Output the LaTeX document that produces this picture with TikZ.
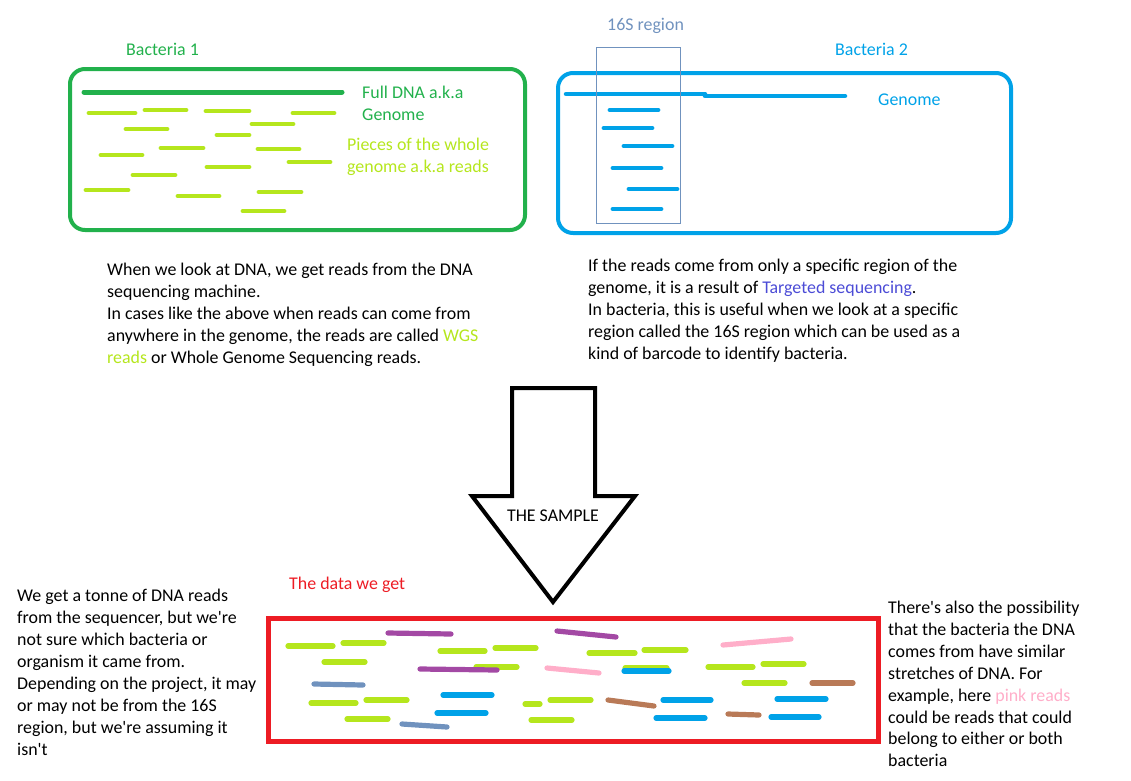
\documentclass[tikz,border=0pt]{standalone}
\usepackage{fontspec}
\setmainfont{Carlito}
\definecolor{pgreen}{HTML}{22B14C}
\definecolor{plime}{HTML}{B5E61D}
\definecolor{pblue}{HTML}{00A2E8}
\definecolor{psteel}{HTML}{7092BE}
\definecolor{pred}{HTML}{ED1C24}
\definecolor{ppurple}{HTML}{A349A4}
\definecolor{ppink}{HTML}{FFAEC9}
\definecolor{pbrown}{HTML}{B97A57}
\definecolor{pindigo}{HTML}{4B4BD6}
\tikzset{
  txt/.style={font=\fontsize{17.9}{21.9}\selectfont, inner sep=0pt, align=left, anchor=north west},
  lbl/.style={font=\fontsize{17.9}{21.9}\selectfont, inner sep=0pt, anchor=base west},
  rd/.style={line width=4.8pt, line cap=round},
  rdb/.style={line width=5.2pt, line cap=round},
  cellbox/.style={line width=4pt, rounded corners=15pt},
}
\newcommand{\apos}{\textquotesingle}
\begin{document}
\begin{tikzpicture}[x=1pt,y=-1pt]
\useasboundingbox (0,0) rectangle (1131,780);

% ---------- Bacteria 1 ----------
\node[lbl, text=pgreen] (b1) at (126,55) {Bacteria 1};
\draw[cellbox, pgreen] (70,69) rectangle (525,230);
\draw[line width=5pt, line cap=round, pgreen] (84,92) -- (342,92);
\node[txt, text=pgreen] (full) at (362,82.7) {\strut Full DNA a.k.a\\Genome};
\node[txt, text=plime] (pieces) at (347,135.4) {\strut Pieces of the whole\\genome a.k.a reads};
\foreach \a/\b/\y in {89/135/113, 145/186/110, 206/249/111, 293/334/113, 126/167/129,
  252/293/124, 217/249/135, 161/203/148, 258/299/149, 101/142/155, 289/330/162,
  207/249/167, 133/175/175, 86/128/190, 178/219/196, 259/301/192, 243/284/211}
  \draw[rd, plime] (\a,\y) -- (\b,\y);

% ---------- Bacteria 2 ----------
\node[lbl, text=psteel] (r16) at (607,30.7) {16S region};
\node[lbl, text=pblue] (b2) at (835,55) {Bacteria 2};
\draw[cellbox, pblue] (558,73) rectangle (1011,233);
\draw[line width=4.5pt, line cap=round, pblue] (566,94) -- (705,94);
\draw[line width=4.5pt, line cap=round, pblue] (705,96) -- (845,96);
\node[lbl, text=pblue] (gen2) at (878,105) {Genome};
\foreach \a/\b/\y in {610/658/110, 604/652/128, 624/672/146, 613/661/168, 629/677/189, 613/661/209}
  \draw[rd, pblue] (\a,\y) -- (\b,\y);
\draw[line width=1pt, psteel] (596,47) rectangle (680,223);

% ---------- explanations ----------
\node[txt] (wgs) at (107,260.4) {\strut When we look at DNA, we get reads from the DNA\\
sequencing machine.\\
In cases like the above when reads can come from\\
anywhere in the genome, the reads are called {\color{plime}WGS}\\
{\color{plime}reads} or Whole Genome Sequencing reads.};
\node[txt] (tgt) at (588,256.4) {\strut If the reads come from only a specific region of the\\
genome, it is a result of {\color{pindigo}Targeted sequencing}.\\
In bacteria, this is useful when we look at a specific\\
region called the 16S region which can be used as a\\
kind of barcode to identify bacteria.};

% ---------- big arrow ----------
\draw[line width=4pt, line join=miter] (512,388) -- (595,388) -- (595,496) -- (635,496)
  -- (553,602) -- (472,496) -- (512,496) -- cycle;
\node[font=\fontsize{17.9}{21.9}\selectfont, inner sep=0pt, anchor=base] (smp) at (553,521.7) {THE SAMPLE};

% ---------- data ----------
\node[lbl, text=pred] (data) at (289,589) {The data we get};
\draw[line width=5pt, pred] (268.5,618.5) rectangle (878.5,741);
\foreach \a/\b/\y in {288/333/646, 343/384/643, 440/485/651, 495/536/648, 324/365/662,
  476/517/667, 311/356/703, 366/407/700, 347/388/719, 525/540/704, 550/591/700,
  531/572/720, 589/635/653, 644/686/650, 708/753/667, 763/804/664, 744/785/683, 625/667/668}
  \draw[rdb, plime] (\a,\y) -- (\b,\y);
\foreach \a/\b/\y in {443/492/695, 437/486/713, 624/669/671, 663/711/700, 656/705/718, 777/826/699, 771/819/717}
  \draw[rdb, pblue] (\a,\y) -- (\b,\y);
\draw[rdb, psteel] (314,684) -- (363,685);
\draw[rdb, psteel] (402,724) -- (447,727);
\draw[rdb, ppurple] (388,633) -- (451,634);
\draw[rdb, ppurple] (420,669) -- (497,670);
\draw[rdb, ppurple] (557,631) -- (616,637);
\draw[rdb, ppink] (547,668) -- (599,673);
\draw[rdb, ppink] (723,645) -- (791,639);
\draw[rdb, pbrown] (608,700) -- (654,706);
\draw[rdb, pbrown] (728,714) -- (759,715);
\draw[rdb, pbrown] (812,683) -- (853,683);

\node[txt] (left) at (17,586.4) {\strut We get a tonne of DNA reads\\
from the sequencer, but we\apos re\\
not sure which bacteria or\\
organism it came from.\\
Depending on the project, it may\\
or may not be from the 16S\\
region, but we\apos re assuming it\\
isn\apos t};
\node[txt] (right) at (888,598) {\strut There\apos s also the possibility\\
that the bacteria the DNA\\
comes from have similar\\
stretches of DNA. For\\
example, here {\color{ppink}pink reads}\\
could be reads that could\\
belong to either or both\\
bacteria};
\end{tikzpicture}
\end{document}
